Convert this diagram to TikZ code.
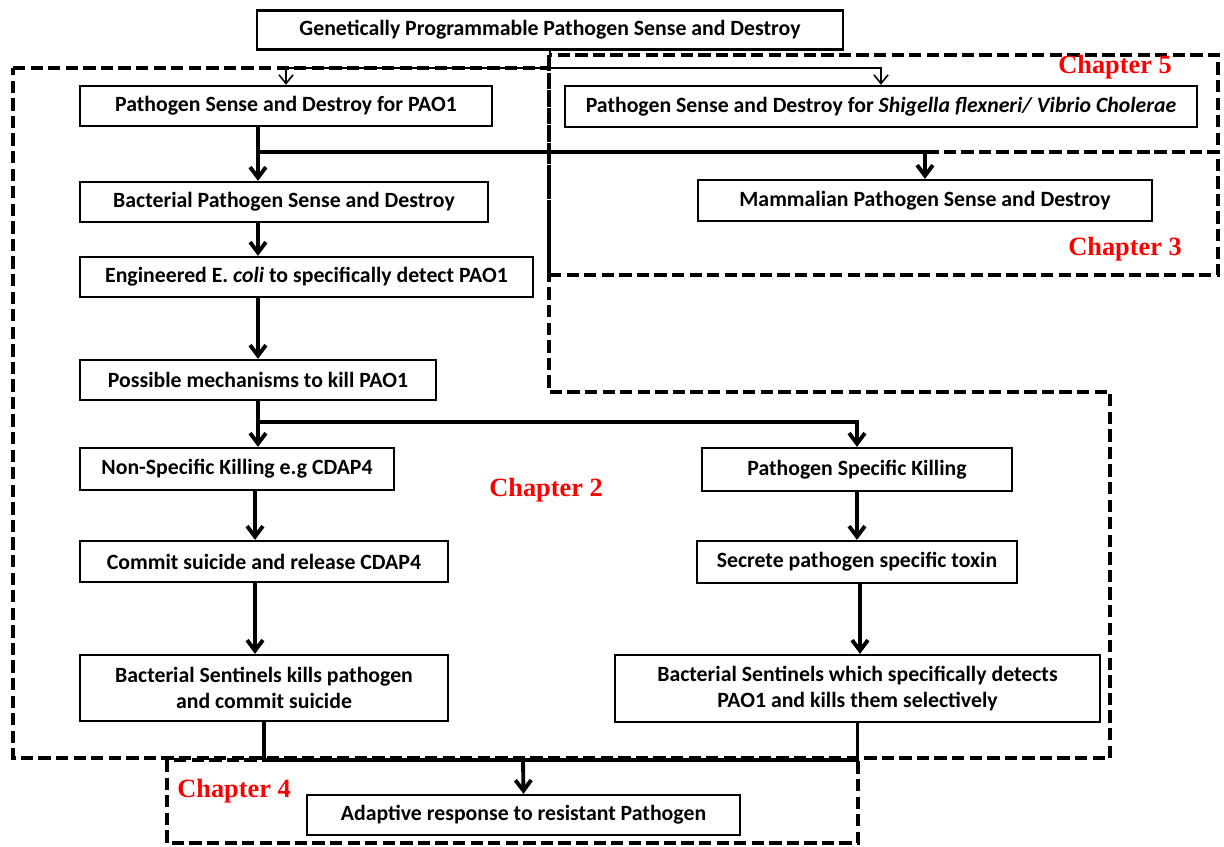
\documentclass[tikz,border=0pt]{standalone}
\usepackage{fontspec}
\setmainfont{Carlito}
\newfontfamily\chapfont{Liberation Serif}
\usetikzlibrary{arrows.meta}

\begin{document}
\begin{tikzpicture}[x=0.02cm,y=-0.02cm,
    box/.style={draw,line width=1.3pt,inner sep=2pt,align=center,
        font=\fontsize{12.4}{15}\selectfont\bfseries},
    chapter/.style={line width=2.4pt,dash pattern=on 7pt off 3pt},
    chaplabel/.style={text=red,inner sep=0pt,anchor=west,
        font=\chapfont\fontsize{15}{18}\selectfont\bfseries},
    flow/.style={line width=2.2pt,-{Straight Barb[length=6pt,width=9pt]}},
    feed/.style={line width=0.9pt,-{Straight Barb[length=5pt,width=8pt]}}]
    \useasboundingbox (0,0) rectangle (1224,846);

    % chapter regions
    \draw[chapter] (13,68) -- (549,68) -- (549,392) -- (1110,392)
        -- (1110,758) -- (13,758) -- cycle;
    \draw[chapter] (549,55) rectangle (1218,152);
    \draw[chapter] (549,152) rectangle (1218,275);
    \draw[chapter] (167,760) rectangle (858,843);

    \node[chaplabel] (ch5) at (1058,67) {Chapter 5};
    \node[chaplabel] (ch3) at (1068,249) {Chapter 3};
    \node[chaplabel] (ch2) at (489,490) {Chapter 2};
    \node[chaplabel] (ch4) at (177,791) {Chapter 4};

    % boxes
    \node[box,minimum width=11.72cm,minimum height=0.78cm] (top) at (550,30)
        {Genetically Programmable Pathogen Sense and Destroy};
    \node[box,minimum width=8.24cm,minimum height=0.8cm] (pao) at (286,106)
        {Pathogen Sense and Destroy for PAO1};
    \node[box,minimum width=12.64cm,minimum height=0.82cm] (shig) at (881,106.5)
        {Pathogen Sense and Destroy for \textit{Shigella flexneri/ Vibrio Cholerae}};
    \node[box,minimum width=8.16cm,minimum height=0.8cm] (bact) at (284,202)
        {Bacterial Pathogen Sense and Destroy};
    \node[box,minimum width=9.08cm,minimum height=0.82cm] (mamm) at (925,200.5)
        {Mammalian Pathogen Sense and Destroy};
    \node[box,minimum width=9.06cm,minimum height=0.8cm] (eng) at (306.5,277)
        {Engineered E. \textit{coli} to specifically detect PAO1};
    \node[box,minimum width=7.12cm,minimum height=0.8cm] (poss) at (258,380)
        {Possible mechanisms to kill PAO1};
    \node[box,minimum width=6.28cm,minimum height=0.84cm] (nonspec) at (237,469)
        {Non-Specific Killing e.g CDAP4};
    \node[box,minimum width=6.2cm,minimum height=0.86cm] (pspec) at (857,469.5)
        {Pathogen Specific Killing};
    \node[box,minimum width=7.36cm,minimum height=0.82cm] (commit) at (264,561.5)
        {Commit suicide and release CDAP4};
    \node[box,minimum width=6.4cm,minimum height=0.84cm] (secrete) at (857,562)
        {Secrete pathogen specific toxin};
    \node[box,minimum width=7.36cm,minimum height=1.32cm] (sentl) at (264,688)
        {Bacterial Sentinels kills pathogen\\and commit suicide};
    \node[box,minimum width=9.7cm,minimum height=1.34cm] (sentr) at (857.5,688.5)
        {Bacterial Sentinels which specifically detects\\PAO1 and kills them selectively};
    \node[box,minimum width=8.66cm,minimum height=0.8cm] (adapt) at (523.5,815)
        {Adaptive response to resistant Pathogen};

    % connectors
    \coordinate (split) at (550,68);
    \draw[feed] (top.south) -- (split) -| (pao.north);
    \draw[feed] (split) -| (shig.north);

    \coordinate (spine) at (258,0);
    \coordinate (b1) at (258,152);
    \draw[flow] (pao.south -| spine) -- (bact.north -| spine);
    \draw[flow] (b1) -| (mamm.north);
    \draw[flow] (bact.south -| spine) -- (eng.north -| spine);
    \draw[flow] (eng.south -| spine) -- (poss.north -| spine);

    \coordinate (b2) at (258,422);
    \draw[flow] (poss.south -| spine) -- (nonspec.north -| spine);
    \draw[flow] (b2) -| (pspec.north);

    \coordinate (lspine) at (255,0);
    \draw[flow] (nonspec.south -| lspine) -- (commit.north -| lspine);
    \draw[flow] (commit.south -| lspine) -- (sentl.north -| lspine);
    \draw[flow] (pspec.south) -- (secrete.north);
    \draw[flow] (secrete.south -| 860,0) -- (sentr.north -| 860,0);

    \coordinate (merge) at (523,760);
    \draw[line width=2.2pt] (sentl.south) |- (merge) -| (sentr.south);
    \draw[flow] (merge) -- (adapt.north);
\end{tikzpicture}
\end{document}
